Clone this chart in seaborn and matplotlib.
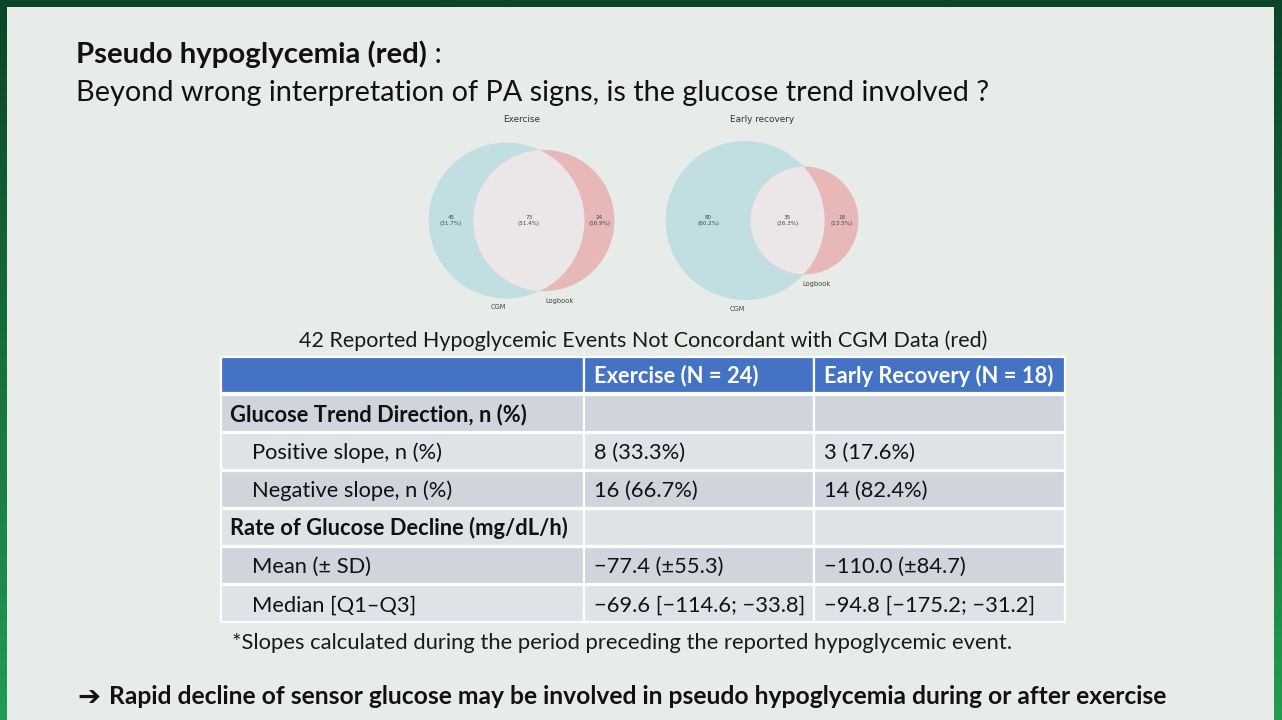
import numpy as np
import matplotlib
matplotlib.use("Agg")
import matplotlib.pyplot as plt
import seaborn as sns
from matplotlib.patches import Rectangle, Circle

# ---------------- data ----------------
venn_titles = ["Exercise", "Early recovery"]
set_labels = ["CGM", "Logbook"]
cgm_only = [45, 80]
both = [73, 35]
logbook_only = [24, 18]

title_bold = "Pseudo hypoglycemia (red)"
title_rest = " :"
subtitle = "Beyond wrong interpretation of PA signs, is the glucose trend involved ?"
table_caption = "42 Reported Hypoglycemic Events Not Concordant with CGM Data (red)"
table_header = ["", "Exercise (N = 24)", "Early Recovery (N = 18)"]
row_labels = ["Glucose Trend Direction, n (%)", "Positive slope, n (%)",
              "Negative slope, n (%)", "Rate of Glucose Decline (mg/dL/h)",
              "Mean (± SD)", "Median [Q1–Q3]"]
row_is_section = [True, False, False, True, False, False]
exercise_vals = ["", "8 (33.3%)", "16 (66.7%)", "", "−77.4 (±55.3)",
                 "−69.6 [−114.6; −33.8]"]
recovery_vals = ["", "3 (17.6%)", "14 (82.4%)", "", "−110.0 (±84.7)",
                 "−94.8 [−175.2; −31.2]"]
footnote = "*Slopes calculated during the period preceding the reported hypoglycemic event."
conclusion = "Rapid decline of sensor glucose may be involved in pseudo hypoglycemia during or after exercise"

# ---------------- style ----------------
sns.set_theme(style="white")
FONT = ["Lato", "DejaVu Sans"]
plt.rcParams["font.family"] = FONT

W, H = 1282, 720
fig = plt.figure(figsize=(W / 100, H / 100), dpi=100)
ax = fig.add_axes([0, 0, 1, 1])
ax.set_xlim(0, W)
ax.set_ylim(H, 0)
ax.axis("off")

# green gradient frame
top = np.array([0x0b, 0x45, 0x27]) / 255
bot = np.array([0x21, 0x9c, 0x53]) / 255
t = np.linspace(0, 1, 256)[:, None]
grad = (top[None, :] * (1 - t) + bot[None, :] * t)[:, None, :]
ax.imshow(grad, extent=(0, W, H, 0), aspect="auto", zorder=0, interpolation="bilinear")
BG = "#e8ece8"
ax.add_patch(Rectangle((7, 7), 1267, H - 7, facecolor=BG, edgecolor="none", zorder=1))

fig.canvas.draw()
renderer = fig.canvas.get_renderer()


def fitted_size(text, width, weight="normal", family=FONT):
    tt = ax.text(0, 0, text, fontsize=20, fontweight=weight, family=family)
    w = tt.get_window_extent(renderer).width
    tt.remove()
    return 20 * width / w


CAP = 0.7165  # Lato cap height / em


def put(text, x, y, size, weight="normal", color="#111111", ha="left", cap_center=False, **kw):
    if cap_center:
        y = y + CAP * size * 100 / 72 / 2
    return ax.text(x, y, text, fontsize=size, fontweight=weight, color=color,
                   ha=ha, va="baseline", zorder=5, **kw)


# ---------------- headings ----------------
s_title = fitted_size(title_bold, 352, "bold")
put(title_bold, 76, 63.3, s_title, "bold")
t_end = ax.text(0, 0, title_bold, fontsize=s_title, fontweight="bold")
w_end = t_end.get_window_extent(renderer).width
t_end.remove()
put(title_rest, 76 + w_end, 63.3, s_title, "normal")

s_sub = fitted_size(subtitle, 917)
put(subtitle, 76, 101, s_sub)

# ---------------- Venn diagrams ----------------
C_CGM = "#c1dee2"
C_LOG = "#e8b8b9"
C_BOTH = "#ebe6e7"
VTXT = "#454545"


def lens_area(r1, r2, d):
    if d >= r1 + r2:
        return 0.0
    if d <= abs(r1 - r2):
        return np.pi * min(r1, r2) ** 2
    a1 = r1 ** 2 * np.arccos((d ** 2 + r1 ** 2 - r2 ** 2) / (2 * d * r1))
    a2 = r2 ** 2 * np.arccos((d ** 2 + r2 ** 2 - r1 ** 2) / (2 * d * r2))
    a3 = 0.5 * np.sqrt((-d + r1 + r2) * (d + r1 - r2) * (d - r1 + r2) * (d + r1 + r2))
    return a1 + a2 - a3


K = 85.5          # pixel radius of a circle holding the whole union
venn_mid_x = [521.5, 762.0]
venn_cy = 220.5
s_vt = fitted_size("Exercise", 37, family=["DejaVu Sans"])
s_vl = fitted_size("(31.7%)", 22.5, family=["DejaVu Sans"])
s_vs = fitted_size("Logbook", 28, family=["DejaVu Sans"])

for i in range(2):
    a, ab, b = cgm_only[i], both[i], logbook_only[i]
    tot = a + ab + b
    r1 = K * np.sqrt((a + ab) / tot)
    r2 = K * np.sqrt((b + ab) / tot)
    target = np.pi * K ** 2 * ab / tot
    lo, hi = abs(r1 - r2) + 1e-6, r1 + r2
    for _ in range(80):
        d = 0.5 * (lo + hi)
        if lens_area(r1, r2, d) > target:
            lo = d
        else:
            hi = d
    left = venn_mid_x[i] - ((r1 + d + r2) / 2)
    c1 = left + r1
    c2 = c1 + d
    cy = venn_cy
    circ1 = Circle((c1, cy), r1, facecolor=C_CGM, edgecolor="none", zorder=2)
    circ2 = Circle((c2, cy), r2, facecolor=C_LOG, edgecolor="none", zorder=2)
    ax.add_patch(circ1)
    ax.add_patch(circ2)
    inter = Circle((c2, cy), r2, facecolor=C_BOTH, edgecolor="none", zorder=3)
    ax.add_patch(inter)
    clip = Circle((c1, cy), r1, transform=ax.transData)
    inter.set_clip_path(clip)

    xs = [((c1 - r1) + (c2 - r2)) / 2, ((c2 - r2) + (c1 + r1)) / 2,
          ((c1 + r1) + (c2 + r2)) / 2]
    for x, v in zip(xs, [a, ab, b]):
        ax.text(x, cy, f"{v}\n({100 * v / tot:.1f}%)", fontsize=s_vl, color=VTXT,
                ha="center", va="center", family=["DejaVu Sans"], linespacing=1.05, zorder=5)
    ax.text(venn_mid_x[i], 119, venn_titles[i], fontsize=s_vt, color="#333333",
            ha="center", va="center", family=["DejaVu Sans"], zorder=5)
    ax.text(c1 - 0.1 * r1, cy + r1 + 9, set_labels[0], fontsize=s_vs, color=VTXT,
            ha="center", va="center", family=["DejaVu Sans"], zorder=5)
    ax.text(c2 + 0.22 * r2, cy + r2 + 9.5, set_labels[1], fontsize=s_vs, color=VTXT,
            ha="center", va="center", family=["DejaVu Sans"], zorder=5)

# ---------------- table ----------------
s_cap = fitted_size(table_caption, 690)
put(table_caption, 643, 347, s_cap, ha="center", color="#1a1a1a")

col_edges = [221, 584, 814, 1065]
row_tops = [357, 395, 433, 471, 509, 547, 585]
row_h = [35.5] + [37] * 6
HEAD = "#4472c4"
DARK = "#cfd4dd"
LIGHT = "#dfe3e8"

for r in range(7):
    for c in range(3):
        if r == 0:
            fc = HEAD
        else:
            fc = DARK if (r % 2 == 1) else LIGHT
        ax.add_patch(Rectangle((col_edges[c], row_tops[r]), col_edges[c + 1] - col_edges[c],
                               row_h[r], facecolor=fc, edgecolor="white", linewidth=1.6,
                               zorder=2))

s_tab = fitted_size(row_labels[0], 296, "bold")

for c, txt in enumerate(table_header):
    if txt:
        put(txt, col_edges[c] + 10, row_tops[0] + row_h[0] / 2, s_tab, "bold",
            color="white", cap_center=True)

for r, lab in enumerate(row_labels):
    yc = row_tops[r + 1] + row_h[r + 1] / 2
    if row_is_section[r]:
        put(lab, 230, yc, s_tab, "bold", cap_center=True)
    else:
        put(lab, 252, yc, s_tab, cap_center=True)
    if exercise_vals[r]:
        put(exercise_vals[r], 594, yc, s_tab, cap_center=True)
    if recovery_vals[r]:
        put(recovery_vals[r], 824, yc, s_tab, cap_center=True)

s_foot = fitted_size(footnote, 783)
put(footnote, 232, 649, s_foot, color="#1a1a1a")

s_conc = fitted_size(conclusion, 1056, "bold")
s_arrow = fitted_size("➔", 23, "bold", family=["DejaVu Sans"])
ax.text(77, 698, "➔", fontsize=s_arrow, fontweight="bold", color="#111111",
        ha="left", va="center", family=["DejaVu Sans"], zorder=5)
put(conclusion, 109, 704, s_conc, "bold")

fig.savefig("out.png", dpi=100, facecolor=BG)
